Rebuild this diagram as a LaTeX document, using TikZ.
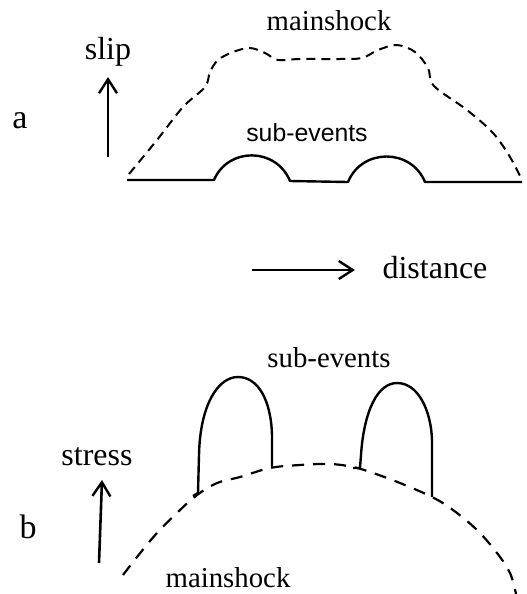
\documentclass[tikz,border=0pt]{standalone}
\usepackage{fontspec}
\setmainfont{Liberation Serif}
\newfontfamily\sansopt{Liberation Sans}
\usetikzlibrary{arrows.meta}
\begin{document}
\begin{tikzpicture}[x=0.5pt,y=-0.5pt,
  lbl/.style={inner sep=0pt,font=\fontsize{16}{19}\selectfont},
  evlbl/.style={inner sep=0pt,font=\fontsize{14.4}{17}\selectfont},
  sevlbl/.style={inner sep=0pt,font=\sansopt\fontsize{12.4}{15}\selectfont},
  panlbl/.style={inner sep=0pt,font=\fontsize{17}{20}\selectfont},
  axarrow/.style={line width=1.3pt,-{Straight Barb[length=7pt,width=9pt,line width=1.2pt]}},
  mainA/.style={line width=1pt,dash pattern=on 4.5pt off 3pt},
  mainB/.style={line width=1.1pt,dash pattern=on 6pt off 4.5pt},
  sub/.style={line width=1.2pt,line join=round}]
\useasboundingbox (0,0) rectangle (526,594);

% ---------- panel a ----------
\node[panlbl] (la) at (20,121) {a};
\node[lbl] (slip) at (108,52) {slip};
\coordinate (slipS) at (108,157);
\coordinate (slipE) at (108,77);
\draw[axarrow] (slipS) -- (slipE);

\node[evlbl] (mainA) at (329,21) {mainshock};
\node[sevlbl] (subA) at (307,133) {sub-events};

\draw[mainA] plot[smooth,tension=0.55] coordinates {
  (129,174) (157,140) (183,107) (205,87) (210,72) (218,60) (233,52) (250,48)
  (265,53) (278,60) (300,59) (340,59) (362,58) (378,50) (397,45) (415,52)
  (428,68) (434,86) (467,110) (493,133) (510,157) (522,180)};

\draw[sub] (127,180) -- (214,180)
  .. controls (228,147) and (276,147) .. (290,181)
  -- (348,182)
  .. controls (362,148) and (411,148) .. (425,182)
  -- (522,182);

\coordinate (distS) at (252,270);
\coordinate (distE) at (355,270);
\draw[axarrow] (distS) -- (distE);
\node[lbl] (dist) at (435,268) {distance};

% ---------- panel b ----------
\node[panlbl] (lb) at (28,527) {b};
\node[lbl] (stress) at (97,457) {stress};
\coordinate (strS) at (99,563);
\coordinate (strE) at (102,480);
\draw[axarrow] (strS) -- (strE);

\node[evlbl] (subB) at (329,358) {sub-events};
\node[evlbl] (mainBl) at (228,578) {mainshock};

\draw[mainB] plot[smooth,tension=0.6] coordinates {
  (123,575) (137,557) (157,533) (180,510) (197,495) (217,483) (240,477)
  (270,468) (300,465) (330,464) (353,467) (373,473) (400,483) (432,497)
  (453,510) (477,530) (497,553) (510,573) (516,594)};

\draw[sub] (193,496) -- (198,493) -- (199,455)
  .. controls (200,405) and (218,377) .. (238,377)
  .. controls (258,377) and (271,400) .. (272,435)
  -- (272,468);
\draw[sub] (353,468) -- (360,468) -- (361,455)
  .. controls (364,410) and (378,383) .. (397,383)
  .. controls (418,383) and (431,410) .. (432,440)
  -- (432,497);
\end{tikzpicture}
\end{document}
